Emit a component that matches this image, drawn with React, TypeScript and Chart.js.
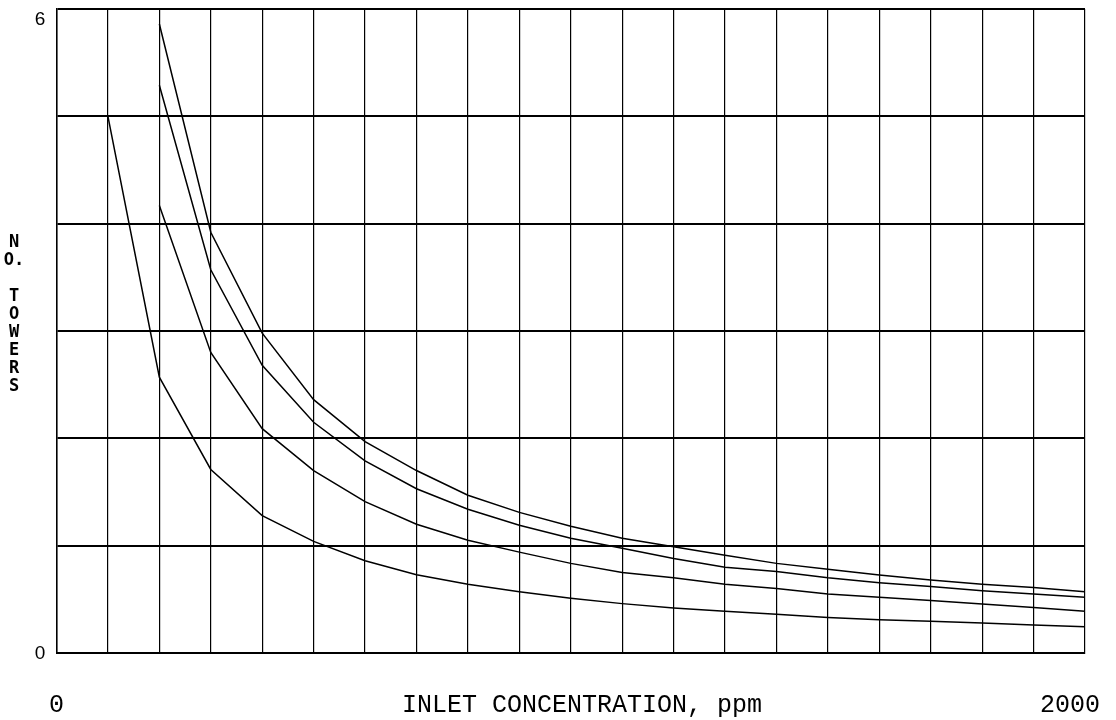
import React, { useEffect, useRef } from "react";
import { Chart, registerables } from "chart.js";

Chart.register(...registerables);

const concentrations = [100, 200, 300, 400, 500, 600, 700, 800, 900, 1000, 1100, 1200, 1300, 1400, 1500, 1600, 1700, 1800, 1900, 2000];
const curveA = [5.0, 2.57, 1.71, 1.28, 1.04, 0.86, 0.73, 0.64, 0.57, 0.51, 0.46, 0.42, 0.39, 0.36, 0.33, 0.31, 0.295, 0.28, 0.26, 0.245];
const curveB = [null, 4.17, 2.8, 2.09, 1.7, 1.41, 1.2, 1.05, 0.94, 0.835, 0.75, 0.7, 0.64, 0.6, 0.55, 0.52, 0.49, 0.456, 0.425, 0.39];
const curveC = [null, 5.29, 3.57, 2.68, 2.15, 1.79, 1.53, 1.34, 1.19, 1.07, 0.975, 0.88, 0.8, 0.76, 0.7, 0.655, 0.62, 0.58, 0.55, 0.52];
const curveD = [null, 5.86, 3.92, 2.98, 2.36, 1.97, 1.7, 1.47, 1.31, 1.18, 1.07, 0.99, 0.91, 0.835, 0.78, 0.726, 0.68, 0.64, 0.61, 0.57];

const xTickLabels = ["0", "2000"];
const yTickLabels = ["0", "6"];
const xTitle = "INLET CONCENTRATION, ppm";
const yTitleLines = ["N", "O.", "", "T", "O", "W", "E", "R", "S"];

const toPoints = (vals: (number | null)[]) =>
  concentrations.map((x, i) => ({ x, y: vals[i] })).filter((p) => p.y !== null);

const textPlugin = {
  id: "customText",
  afterDraw(chart: any) {
    const ctx = chart.ctx;
    const ys = chart.scales.y;
    const xs = chart.scales.x;
    ctx.save();
    ctx.fillStyle = "#000";
    // y tick labels
    ctx.font = "19px 'Liberation Sans', Arial, sans-serif";
    ctx.textAlign = "center";
    ctx.textBaseline = "middle";
    ctx.fillText(yTickLabels[1], 40, ys.getPixelForValue(6) + 11);
    ctx.fillText(yTickLabels[0], 40, ys.getPixelForValue(0) + 1);
    // x labels
    ctx.font = "25px 'Liberation Mono', 'Courier New', monospace";
    const yLab = 705;
    ctx.fillText(xTickLabels[0], xs.getPixelForValue(0), yLab);
    ctx.fillText(xTickLabels[1], xs.getPixelForValue(2000) - 15, yLab);
    ctx.fillText(xTitle, 582, yLab);
    // y title stacked letters
    ctx.font = "bold 17px 'DejaVu Sans Mono', monospace";
    yTitleLines.forEach((t, i) => {
      ctx.fillText(t, 14, 243 + i * 18);
    });
    ctx.restore();
  },
};

export default function App() {
  const ref = useRef<HTMLCanvasElement | null>(null);
  useEffect(() => {
    if (!ref.current) return;
    const lineDs = (vals: (number | null)[]) => ({
      data: toPoints(vals),
      borderColor: "#000",
      borderWidth: 1.5,
      pointRadius: 0,
      fill: false,
      tension: 0,
    });
    const chart = new Chart(ref.current, {
      type: "line",
      data: {
        datasets: [lineDs(curveA), lineDs(curveB), lineDs(curveC), lineDs(curveD)],
      },
      plugins: [textPlugin],
      options: {
        animation: false,
        responsive: false,
        maintainAspectRatio: false,
        layout: { padding: { top: 9, right: 31, left: 0, bottom: 0 } },
        plugins: { legend: { display: false }, tooltip: { enabled: false } },
        scales: {
          x: {
            type: "linear",
            min: 0,
            max: 2000,
            ticks: { stepSize: 100, display: false },
            grid: { color: "#000", lineWidth: 1.2, drawTicks: false },
            border: { color: "#000", width: 2 },
            afterFit: (s: any) => {
              s.height = 67;
            },
          },
          y: {
            min: 0,
            max: 6,
            ticks: { stepSize: 1, display: false },
            grid: { color: "#000", lineWidth: 2, drawTicks: false },
            border: { color: "#000", width: 1.5 },
            afterFit: (s: any) => {
              s.width = 56.5;
            },
          },
        },
      },
    });
    return () => chart.destroy();
  }, []);
  return (
    <div style={{ position: "fixed", left: 0, top: 0, width: 1116, height: 720, background: "#fff" }}>
      <canvas ref={ref} width={1116} height={720} style={{ width: 1116, height: 720 }} />
    </div>
  );
}
